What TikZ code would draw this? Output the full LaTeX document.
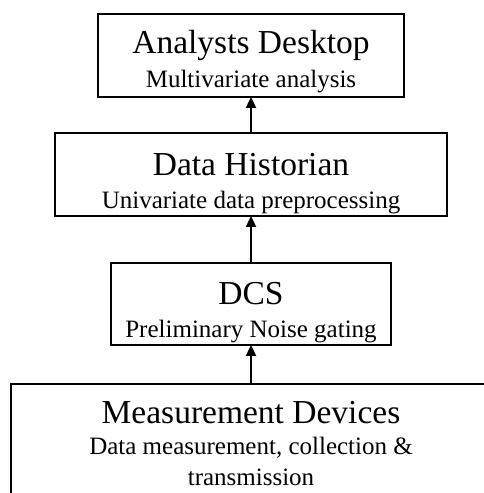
\documentclass[tikz,border=0pt]{standalone}
\usepackage{fontspec}
\setmainfont{Liberation Serif}
\usetikzlibrary{arrows.meta}

\tikzset{
  layerbox/.style={draw=black, line width=1.8bp, rectangle, inner sep=0pt},
  layertitle/.style={anchor=base, inner sep=0pt, font=\fontsize{33.5bp}{38bp}\selectfont},
  layersub/.style={anchor=base, inner sep=0pt, font=\fontsize{25bp}{30bp}\selectfont},
  flow/.style={draw=black, line width=1.8bp, -{Triangle[length=11bp,width=10bp]}, shorten >=-1bp}
}

\begin{document}
\begin{tikzpicture}[x=1bp, y=-1bp]
  \useasboundingbox (0,0) rectangle (484,493);
  \clip (0,0) rectangle (484,493);

  % Analysts Desktop layer
  \node[layerbox, minimum width=306bp, minimum height=83bp] (ad) at (251,55.5) {};
  \node[layertitle] (adT) at (251,54) {Analysts Desktop};
  \node[layersub] (adS) at (251,88) {Multivariate analysis};

  % Data Historian layer
  \node[layerbox, minimum width=392bp, minimum height=83bp] (dh) at (251,174.5) {};
  \node[layertitle] (dhT) at (251,176) {Data Historian};
  \node[layersub] (dhS) at (251,208) {Univariate data preprocessing};

  % DCS layer
  \node[layerbox, minimum width=280bp, minimum height=82bp] (dcs) at (251,304) {};
  \node[layertitle] (dcsT) at (251,304) {DCS};
  \node[layersub] (dcsS) at (251,337) {Preliminary Noise gating};

  % Measurement Devices layer (runs past the right and bottom edges)
  \node[layerbox, minimum width=490bp, minimum height=160bp, anchor=north west] (md) at (10,383) {};
  \node[layertitle] (mdT) at (251,423) {Measurement Devices};
  \node[layersub] (mdS1) at (251,454) {Data measurement, collection \&};
  \node[layersub] (mdS2) at (251,485) {transmission};

  % Upward data flow
  \draw[flow] (md.north -| dcs.south) -- (dcs.south);
  \draw[flow] (dcs.north) -- (dh.south);
  \draw[flow] (dh.north) -- (ad.south);
\end{tikzpicture}
\end{document}
